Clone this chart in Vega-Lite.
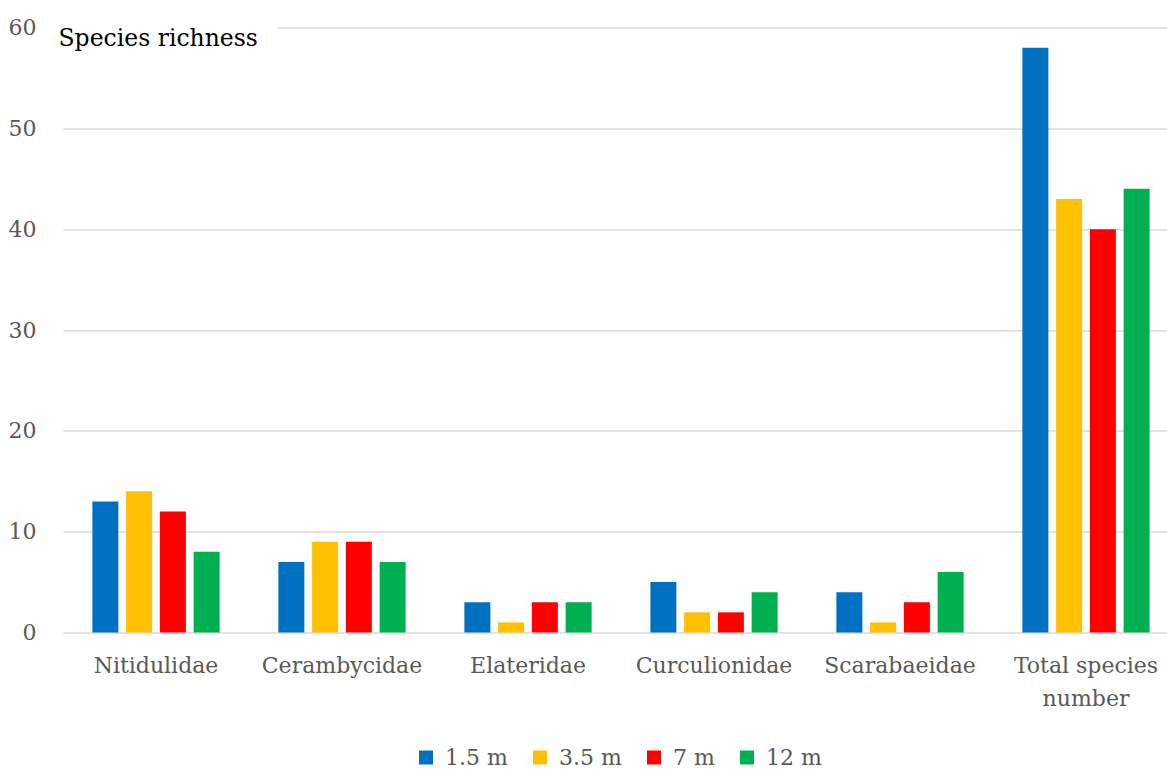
{
  "$schema": "https://vega.github.io/schema/vega-lite/v6.json",
  "width": 1099,
  "height": 605,
  "autosize": {"type": "none"},
  "padding": {"left": 63, "top": 27.5, "right": 5, "bottom": 136.5},
  "background": "white",
  "config": {
    "font": "DejaVu Serif",
    "view": {"stroke": null}
  },
  "data": {
    "values": [
      {"family": "Nitidulidae", "height": "1.5 m", "species": 13},
      {"family": "Nitidulidae", "height": "3.5 m", "species": 14},
      {"family": "Nitidulidae", "height": "7 m", "species": 12},
      {"family": "Nitidulidae", "height": "12 m", "species": 8},
      {"family": "Cerambycidae", "height": "1.5 m", "species": 7},
      {"family": "Cerambycidae", "height": "3.5 m", "species": 9},
      {"family": "Cerambycidae", "height": "7 m", "species": 9},
      {"family": "Cerambycidae", "height": "12 m", "species": 7},
      {"family": "Elateridae", "height": "1.5 m", "species": 3},
      {"family": "Elateridae", "height": "3.5 m", "species": 1},
      {"family": "Elateridae", "height": "7 m", "species": 3},
      {"family": "Elateridae", "height": "12 m", "species": 3},
      {"family": "Curculionidae", "height": "1.5 m", "species": 5},
      {"family": "Curculionidae", "height": "3.5 m", "species": 2},
      {"family": "Curculionidae", "height": "7 m", "species": 2},
      {"family": "Curculionidae", "height": "12 m", "species": 4},
      {"family": "Scarabaeidae", "height": "1.5 m", "species": 4},
      {"family": "Scarabaeidae", "height": "3.5 m", "species": 1},
      {"family": "Scarabaeidae", "height": "7 m", "species": 3},
      {"family": "Scarabaeidae", "height": "12 m", "species": 6},
      {"family": "Total species number", "height": "1.5 m", "species": 58},
      {"family": "Total species number", "height": "3.5 m", "species": 43},
      {"family": "Total species number", "height": "7 m", "species": 40},
      {"family": "Total species number", "height": "12 m", "species": 44}
    ]
  },
  "mark": {"type": "bar"},
  "encoding": {
    "x": {
      "field": "family",
      "type": "nominal",
      "sort": null,
      "scale": {"range": [0, 1116], "paddingInner": 0, "paddingOuter": 0},
      "axis": {
        "title": null,
        "ticks": false,
        "domain": false,
        "labelAngle": 0,
        "labelFont": "DejaVu Serif",
        "labelFontSize": 22,
        "labelColor": "#595959",
        "labelPadding": 23,
        "labelLineHeight": 33,
        "labelExpr": "datum.value === 'Total species number' ? ['Total species', 'number'] : datum.value"
      }
    },
    "xOffset": {
      "field": "height",
      "type": "nominal",
      "sort": ["1.5 m", "3.5 m", "7 m", "12 m"],
      "scale": {"paddingInner": 0.23, "paddingOuter": 0.87}
    },
    "y": {
      "field": "species",
      "type": "quantitative",
      "scale": {"domain": [0, 60], "nice": false},
      "axis": {
        "values": [0, 10, 20, 30, 40, 50, 60],
        "ticks": false,
        "domain": false,
        "gridColor": "#D9D9D9",
        "gridWidth": 1.3,
        "gridDash": {"condition": {"test": "datum.value === 60", "value": [0, 214, 1200, 0]}, "value": []},
        "labelFont": "DejaVu Serif",
        "labelFontSize": 22,
        "labelColor": "#595959",
        "labelPadding": 27,
        "title": "Species richness",
        "titleFont": "DejaVu Serif",
        "titleAngle": 0,
        "titleAlign": "left",
        "titleBaseline": "alphabetic",
        "titleX": -5,
        "titleY": 17.5,
        "titleFontSize": 23.5,
        "titleFontWeight": "normal",
        "titleColor": "#000000"
      }
    },
    "color": {
      "field": "height",
      "type": "nominal",
      "sort": ["1.5 m", "3.5 m", "7 m", "12 m"],
      "scale": {
        "domain": ["1.5 m", "3.5 m", "7 m", "12 m"],
        "range": ["#0070C0", "#FFC000", "#FF0000", "#00B050"]
      },
      "legend": {
        "title": null,
        "orient": "none",
        "direction": "horizontal",
        "legendX": 352,
        "legendY": 719,
        "symbolType": "square",
        "symbolSize": 196,
        "symbolStrokeWidth": 0,
        "labelFont": "DejaVu Serif",
        "labelFontSize": 22,
        "labelColor": "#595959",
        "labelOffset": 8,
        "columnPadding": 21
      }
    }
  }
}
